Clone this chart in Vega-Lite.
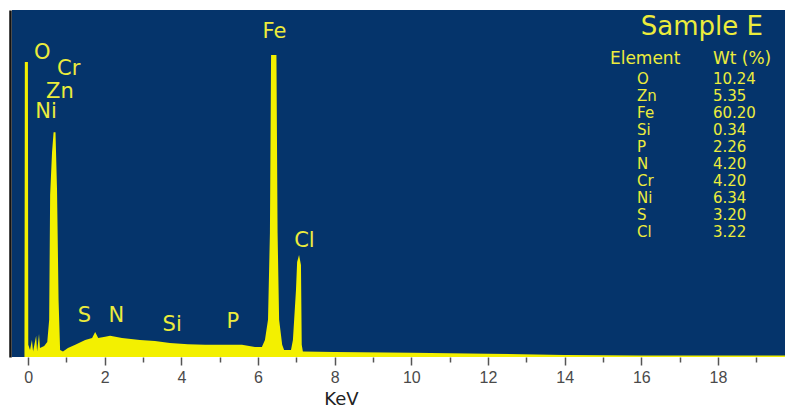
{
  "$schema": "https://vega.github.io/schema/vega-lite/v6.json",
  "width": 773,
  "height": 347,
  "autosize": {"type": "none"},
  "padding": {"left": 12, "top": 10, "right": 0, "bottom": 53},
  "background": "#ffffff",
  "config": {"view": {"stroke": null, "fill": "#05346b"}},
  "datasets": {
    "spectrum": [
      {"kev": -0.095, "counts": 0},
      {"kev": -0.085, "counts": 85.0},
      {"kev": -0.005, "counts": 85.0},
      {"kev": 0.005, "counts": 3.5},
      {"kev": 0.05, "counts": 2.0},
      {"kev": 0.10, "counts": 4.9},
      {"kev": 0.13, "counts": 1.6},
      {"kev": 0.21, "counts": 6.1},
      {"kev": 0.235, "counts": 1.6},
      {"kev": 0.285, "counts": 6.6},
      {"kev": 0.31, "counts": 2.6},
      {"kev": 0.42, "counts": 3.2},
      {"kev": 0.50, "counts": 4.3},
      {"kev": 0.55, "counts": 10.7},
      {"kev": 0.575, "counts": 46.7},
      {"kev": 0.625, "counts": 59.1},
      {"kev": 0.665, "counts": 64.8},
      {"kev": 0.715, "counts": 64.8},
      {"kev": 0.755, "counts": 48.1},
      {"kev": 0.795, "counts": 16.4},
      {"kev": 0.835, "counts": 2.0},
      {"kev": 0.91, "counts": 1.6},
      {"kev": 1.04, "counts": 2.6},
      {"kev": 1.23, "counts": 3.5},
      {"kev": 1.49, "counts": 4.9},
      {"kev": 1.67, "counts": 5.5},
      {"kev": 1.75, "counts": 7.2},
      {"kev": 1.83, "counts": 5.5},
      {"kev": 2.01, "counts": 5.8},
      {"kev": 2.14, "counts": 6.1},
      {"kev": 2.45, "counts": 5.5},
      {"kev": 2.92, "counts": 4.9},
      {"kev": 3.31, "counts": 4.6},
      {"kev": 3.70, "counts": 4.0},
      {"kev": 4.17, "counts": 3.7},
      {"kev": 4.62, "counts": 3.5},
      {"kev": 5.06, "counts": 3.5},
      {"kev": 5.58, "counts": 3.5},
      {"kev": 5.92, "counts": 2.9},
      {"kev": 6.10, "counts": 2.9},
      {"kev": 6.18, "counts": 4.9},
      {"kev": 6.26, "counts": 10.7},
      {"kev": 6.31, "counts": 35.7},
      {"kev": 6.34, "counts": 87.0},
      {"kev": 6.48, "counts": 87.0},
      {"kev": 6.51, "counts": 35.7},
      {"kev": 6.55, "counts": 10.7},
      {"kev": 6.63, "counts": 3.5},
      {"kev": 6.68, "counts": 2.0},
      {"kev": 6.86, "counts": 2.0},
      {"kev": 6.91, "counts": 4.9},
      {"kev": 6.99, "counts": 19.3},
      {"kev": 7.02, "counts": 27.4},
      {"kev": 7.07, "counts": 29.4},
      {"kev": 7.12, "counts": 26.5},
      {"kev": 7.14, "counts": 3.5},
      {"kev": 7.17, "counts": 1.6},
      {"kev": 8.0, "counts": 1.45},
      {"kev": 10.0, "counts": 1.25},
      {"kev": 12.0, "counts": 0.95},
      {"kev": 14.0, "counts": 0.6},
      {"kev": 16.0, "counts": 0.45},
      {"kev": 19.75, "counts": 0.4}
    ],
    "peaks": [
      {"label": "O", "kev": 0.37, "counts": 87.5},
      {"label": "Cr", "kev": 1.06, "counts": 83.0},
      {"label": "Zn", "kev": 0.83, "counts": 76.5},
      {"label": "Ni", "kev": 0.47, "counts": 70.6},
      {"label": "Fe", "kev": 6.43, "counts": 93.8},
      {"label": "Cl", "kev": 7.21, "counts": 33.4},
      {"label": "S", "kev": 1.47, "counts": 11.7},
      {"label": "N", "kev": 2.30, "counts": 11.7},
      {"label": "Si", "kev": 3.76, "counts": 9.1},
      {"label": "P", "kev": 5.34, "counts": 10.2}
    ],
    "table": [
      {"row": 1, "element": "O", "wt": "10.24"},
      {"row": 2, "element": "Zn", "wt": "5.35"},
      {"row": 3, "element": "Fe", "wt": "60.20"},
      {"row": 4, "element": "Si", "wt": "0.34"},
      {"row": 5, "element": "P", "wt": "2.26"},
      {"row": 6, "element": "N", "wt": "4.20"},
      {"row": 7, "element": "Cr", "wt": "4.20"},
      {"row": 8, "element": "Ni", "wt": "6.34"},
      {"row": 9, "element": "S", "wt": "3.20"},
      {"row": 10, "element": "Cl", "wt": "3.22"}
    ]
  },
  "resolve": {"scale": {"y": "independent"}},
  "layer": [
    {
      "data": {"name": "spectrum"},
      "mark": {"type": "area", "color": "#f3f000", "interpolate": "linear"},
      "encoding": {
        "x": {
          "field": "kev", "type": "quantitative",
          "scale": {"domain": [-0.42, 19.75], "nice": false, "zero": false},
          "axis": {
            "title": "KeV",
            "values": [0,0.5,1,1.5,2,2.5,3,3.5,4,4.5,5,5.5,6,6.5,7,7.5,8,8.5,9,9.5,10,10.5,11,11.5,12,12.5,13,13.5,14,14.5,15,15.5,16,16.5,17,17.5,18,18.5,19,19.5],
            "labelExpr": "datum.value % 2 === 0 ? format(datum.value, 'd') : ''",
            "domain": false,
            "grid": false,
            "ticks": true,
            "tickSize": {"condition": {"test": "datum.value % 2 === 0", "value": 8}, "value": 5},
            "tickColor": "#555555",
            "tickWidth": 1.5,
            "labelFont": "Liberation Sans",
            "labelFontSize": 16,
            "labelColor": "#4a4a4a",
            "labelPadding": 4,
            "labelFlush": false,
            "labelOverlap": false,
            "titleFont": "DejaVu Sans",
            "titleFontSize": 18,
            "titleFontWeight": "normal",
            "titleColor": "#222222",
            "titleAlign": "center",
            "titleAnchor": "start",
            "titleBaseline": "alphabetic",
            "titleX": 329,
            "titleY": 47
          }
        },
        "y": {
          "field": "counts", "type": "quantitative",
          "scale": {"domain": [0, 100], "nice": false},
          "axis": {"title": null, "labels": false, "ticks": false, "grid": false, "domain": true, "domainColor": "#111111", "domainWidth": 2.5, "offset": 2}
        }
      }
    },
    {
      "data": {"name": "peaks"},
      "mark": {"type": "text", "font": "DejaVu Sans", "fontSize": 21, "color": "#ecec3c", "align": "center", "baseline": "middle"},
      "encoding": {
        "x": {"field": "kev", "type": "quantitative"},
        "y": {"field": "counts", "type": "quantitative", "scale": {"domain": [0, 100], "nice": false}, "axis": null},
        "text": {"field": "label"}
      }
    },
    {
      "layer": [
        {
          "data": {"name": "table"},
          "mark": {"type": "text", "font": "DejaVu Sans", "fontSize": 15, "color": "#ecec3c", "align": "left", "baseline": "middle"},
          "encoding": {
            "x": {"datum": 15.89},
            "y": {"field": "row", "type": "quantitative", "scale": {"domain": [-3.059, 17.353], "reverse": true, "nice": false, "zero": false}, "axis": null},
            "text": {"field": "element"}
          }
        },
        {
          "data": {"name": "table"},
          "mark": {"type": "text", "font": "DejaVu Sans", "fontSize": 15, "color": "#ecec3c", "align": "left", "baseline": "middle"},
          "encoding": {
            "x": {"datum": 17.87},
            "y": {"field": "row", "type": "quantitative"},
            "text": {"field": "wt"}
          }
        },
        {
          "data": {"values": [{"row": -0.2, "t": "Element"}]},
          "mark": {"type": "text", "font": "DejaVu Sans", "fontSize": 17, "color": "#ecec3c", "align": "center", "baseline": "middle"},
          "encoding": {
            "x": {"datum": 16.10},
            "y": {"field": "row", "type": "quantitative"},
            "text": {"field": "t"}
          }
        },
        {
          "data": {"values": [{"row": -0.2, "t": "Wt (%)"}]},
          "mark": {"type": "text", "font": "DejaVu Sans", "fontSize": 17, "color": "#ecec3c", "align": "center", "baseline": "middle"},
          "encoding": {
            "x": {"datum": 18.63},
            "y": {"field": "row", "type": "quantitative"},
            "text": {"field": "t"}
          }
        },
        {
          "data": {"values": [{"row": -2.08, "t": "Sample E"}]},
          "mark": {"type": "text", "font": "DejaVu Sans", "fontSize": 26, "color": "#ecec3c", "align": "center", "baseline": "middle"},
          "encoding": {
            "x": {"datum": 17.58},
            "y": {"field": "row", "type": "quantitative"},
            "text": {"field": "t"}
          }
        }
      ]
    }
  ]
}
